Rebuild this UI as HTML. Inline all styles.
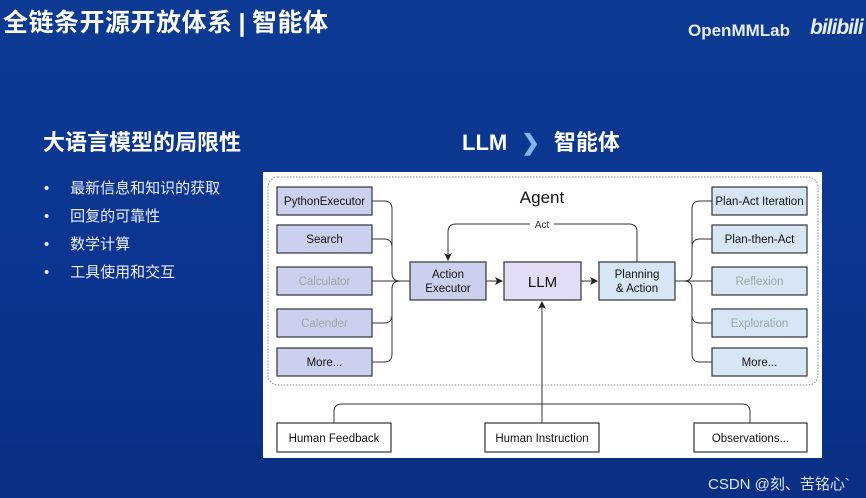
<!DOCTYPE html>
<html><head><meta charset="utf-8"><style>
html,body{margin:0;padding:0}
body{width:866px;height:498px;overflow:hidden;background:linear-gradient(180deg,#0c3a92 0%,#0b3590 50%,#0a2f84 100%);font-family:"Liberation Sans","Noto Sans CJK SC",sans-serif;position:relative}
.t{position:absolute;color:#fff;white-space:nowrap}
</style></head><body>
<div class="t" style="left:3px;top:3px;font-size:25px;font-weight:bold;letter-spacing:0.5px">全链条开源开放体系<span style="margin:0 6px">|</span>智能体</div>
<div class="t" style="left:688px;top:21px;font-size:17px;font-weight:bold;color:#e8eef8">OpenMMLab</div>
<div class="t" style="left:810px;top:16px;font-size:21px;font-weight:bold;font-style:italic;color:#e8eef8;letter-spacing:-1px">bilibili</div>
<div class="t" style="left:43px;top:125px;font-size:22px;font-weight:bold;">大语言模型的局限性</div>
<div class="t" style="left:462px;top:125px;font-size:22px;font-weight:bold;">LLM <span style="color:#7fb6f0;margin:0 8px">❯</span> 智能体</div>
<div class="t" style="left:44px;top:175px;font-size:15px;line-height:28px;color:#eef">•&nbsp;&nbsp;&nbsp;&nbsp;&nbsp;最新信息和知识的获取<br>•&nbsp;&nbsp;&nbsp;&nbsp;&nbsp;回复的可靠性<br>•&nbsp;&nbsp;&nbsp;&nbsp;&nbsp;数学计算<br>•&nbsp;&nbsp;&nbsp;&nbsp;&nbsp;工具使用和交互</div>
<div class="t" style="left:708px;top:473px;font-size:15px;color:#dde4f2">CSDN @刻、苦铭心`</div>
<svg style="position:absolute;left:0;top:0" width="866" height="498" font-family="Liberation Sans, sans-serif">
<defs><marker id="a" markerWidth="8" markerHeight="8" refX="7" refY="4" orient="auto"><path d="M0,0 L8,4 L0,8 L2,4z" fill="#222"/></marker></defs>
<rect x="263" y="172" width="559" height="286" fill="#fff"/>
<rect x="268" y="177" width="550" height="208" rx="10" fill="none" stroke="#888" stroke-dasharray="1.5,1.5"/>
<text x="542" y="203" font-size="17" text-anchor="middle" fill="#111">Agent</text>
<g stroke="#333" stroke-width="1" fill="none">
<path d="M372,201 h12 q8,0 8,8 v64 q0,8 8,8"/>
<path d="M372,239 h12 q8,0 8,8 v26"/>
<path d="M372,281 h38"/>
<path d="M372,323 h12 q8,0 8,-8 v-26 q0,-8 8,-8"/>
<path d="M372,362 h12 q8,0 8,-8 v-65"/>
<path d="M486,281 h16" marker-end="url(#a)"/>
<path d="M581,281 h16" marker-end="url(#a)"/>
<path d="M637,262 v-30 q0,-8 -8,-8 h-173 q-8,0 -8,8 v28" marker-end="url(#a)"/>
<path d="M675,281 h38"/>
<path d="M712,201 h-12 q-8,0 -8,8 v64 q0,8 -8,8"/>
<path d="M712,239 h-12 q-8,0 -8,8 v26"/>
<path d="M712,323 h-12 q-8,0 -8,-8 v-26 q0,-8 -8,-8"/>
<path d="M712,362 h-12 q-8,0 -8,-8 v-65"/>
<path d="M334,423 v-11 q0,-8 8,-8 h400 q8,0 8,8 v11"/>
<path d="M542,423 v-121" marker-end="url(#a)"/>
</g>
<rect x="530" y="219" width="24" height="10" fill="#fff"/>
<text x="542" y="228" font-size="10" text-anchor="middle" fill="#333">Act</text>
<g stroke="#333" stroke-width="1.2" font-size="11.5" text-anchor="middle">
<rect x="277" y="187" width="95" height="28" fill="#ccd0ef"/><text x="324.5" y="205" stroke="none" fill="#111">PythonExecutor</text>
<rect x="277" y="225" width="95" height="28" fill="#ccd0ef"/><text x="324.5" y="243" stroke="none" fill="#111">Search</text>
<rect x="277" y="267" width="95" height="28" fill="#ccd0ef"/><text x="324.5" y="285" stroke="none" fill="#9aa">Calculator</text>
<rect x="277" y="309" width="95" height="28" fill="#ccd0ef"/><text x="324.5" y="327" stroke="none" fill="#9aa">Calender</text>
<rect x="277" y="348" width="95" height="28" fill="#ccd0ef"/><text x="324.5" y="366" stroke="none" fill="#111">More...</text>
<rect x="410" y="262" width="76" height="38" fill="#ccd0ef"/><text x="448" y="278" stroke="none" fill="#111">Action</text><text x="448" y="292" stroke="none" fill="#111">Executor</text>
<rect x="504" y="262" width="77" height="38" fill="#e2dcf6"/><text x="542.5" y="287" stroke="none" fill="#111" font-size="15">LLM</text>
<rect x="599" y="262" width="76" height="38" fill="#d6e6f5"/><text x="637" y="278" stroke="none" fill="#111">Planning</text><text x="637" y="292" stroke="none" fill="#111">&amp; Action</text>
<rect x="712" y="187" width="95" height="28" fill="#d6e6f5"/><text x="759.5" y="205" stroke="none" fill="#111">Plan-Act Iteration</text>
<rect x="712" y="225" width="95" height="28" fill="#d6e6f5"/><text x="759.5" y="243" stroke="none" fill="#111">Plan-then-Act</text>
<rect x="712" y="267" width="95" height="28" fill="#d6e6f5"/><text x="759.5" y="285" stroke="none" fill="#9aa">Reflexion</text>
<rect x="712" y="309" width="95" height="28" fill="#d6e6f5"/><text x="759.5" y="327" stroke="none" fill="#9aa">Exploration</text>
<rect x="712" y="348" width="95" height="28" fill="#d6e6f5"/><text x="759.5" y="366" stroke="none" fill="#111">More...</text>
<rect x="277" y="423" width="114" height="29" fill="#fff"/><text x="334" y="442" stroke="none" fill="#111">Human Feedback</text>
<rect x="485" y="423" width="114" height="29" fill="#fff"/><text x="542" y="442" stroke="none" fill="#111">Human Instruction</text>
<rect x="694" y="423" width="113" height="29" fill="#fff"/><text x="750.5" y="442" stroke="none" fill="#111">Observations...</text>
</g>
</svg>
</body></html>
